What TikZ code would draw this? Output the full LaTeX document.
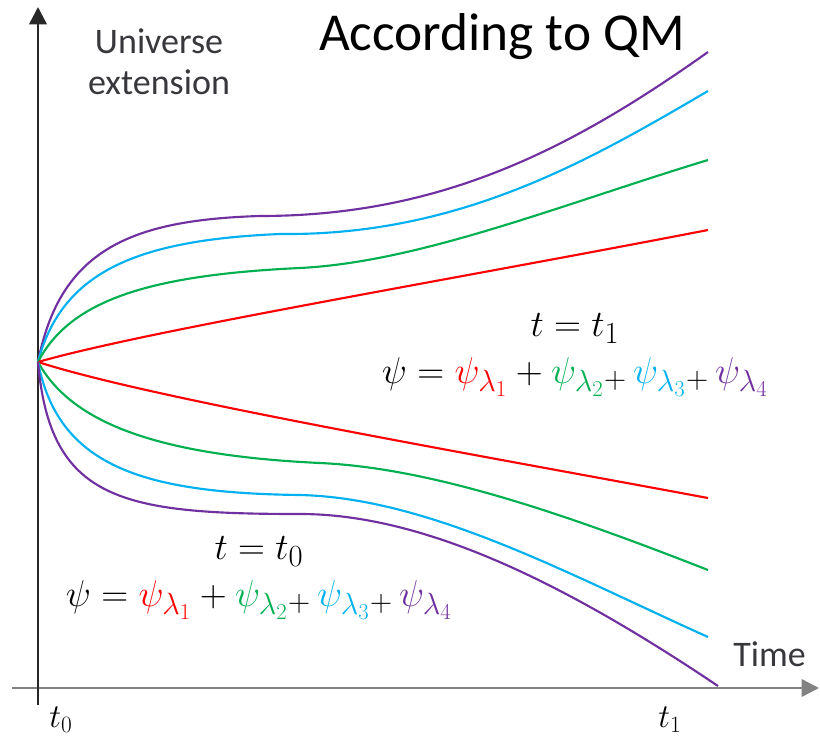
\RequirePackage{fix-cm}
\documentclass[tikz,border=0pt]{standalone}
\usepackage{fontspec}
\setmainfont{Carlito}
\DeclareMathSizes{28}{28}{23}{17}
\usetikzlibrary{arrows.meta}
\definecolor{cRed}{RGB}{255,0,0}
\definecolor{cGreen}{RGB}{0,176,80}
\definecolor{cBlue}{RGB}{0,176,240}
\definecolor{cPurple}{RGB}{112,48,160}
\definecolor{cAxis}{RGB}{40,40,40}
\definecolor{cHAxis}{RGB}{130,130,130}
\definecolor{cLabel}{RGB}{55,55,60}
\tikzset{
  wave/.style={line width=1.6pt},
  axisline/.style={line width=1.9pt, -{Triangle[length=13pt,width=13pt]}},
  lbl/.style={inner sep=0pt, text=cLabel, font=\fontsize{27}{31}\selectfont, align=center},
  mathlbl/.style={inner sep=0pt, font=\fontsize{28}{35}\selectfont, align=center},
  tlbl/.style={inner sep=0pt, font=\fontsize{25}{30}\selectfont}
}
\newcommand{\psisum}{$\psi = \textcolor{cRed}{\psi_{\lambda_1}} + \textcolor{cGreen}{\psi_{\lambda_2}}{}_{+}\,\textcolor{cBlue}{\psi_{\lambda_3}}{}_{+}\,\textcolor{cPurple}{\psi_{\lambda_4}}$}
\begin{document}
\begin{tikzpicture}[x=0.75pt, y=-0.75pt]
\useasboundingbox (0,0) rectangle (820,738);
\coordinate (o) at (38,362);
\coordinate (vb) at (38,705);
\coordinate (vt) at (38,7);
\coordinate (hl) at (12,688);
\coordinate (hr) at (819,688);
\draw[axisline, draw=cHAxis, fill=black] (hl) -- (hr);
\draw[axisline, draw=cAxis, fill=black] (vb) -- (vt);
% upper curves
\draw[wave, cPurple] (o) .. controls (60,250) and (130,220) .. (260,216)
  .. controls (440,216) and (570,150) .. (708,52);
\draw[wave, cBlue] (o) .. controls (62,270) and (140,240) .. (280,234)
  .. controls (460,236) and (590,160) .. (708,91);
\draw[wave, cGreen] (o) .. controls (70,300) and (150,275) .. (300,268)
  .. controls (420,262) and (560,205) .. (708,160);
\draw[wave, cRed] (o) .. controls (150,330) and (450,280) .. (708,230);
% lower curves
\draw[wave, cRed] (o) .. controls (150,398) and (450,450) .. (708,498);
\draw[wave, cGreen] (o) .. controls (70,420) and (150,455) .. (320,463)
  .. controls (430,468) and (560,512) .. (708,570);
\draw[wave, cBlue] (o) .. controls (58,465) and (140,493) .. (300,495)
  .. controls (430,498) and (570,575) .. (708,637);
\draw[wave, cPurple] (o) .. controls (50,500) and (120,514) .. (300,514)
  .. controls (430,514) and (575,590) .. (718,686);
% labels
\node[lbl] (yl) at (159,62) {Universe\\extension};
\node[inner sep=0pt, font=\fontsize{40}{44}\selectfont] (title) at (502,37) {According to QM};
\node[lbl, anchor=west] (xl) at (733,654) {Time};
\node[tlbl] (t0) at (61,720) {$t_0$};
\node[tlbl] (t1) at (670,720) {$t_1$};
\node[mathlbl] (up) at (575,355) {$t = t_1$\\\psisum};
\node[mathlbl] (lo) at (259,578) {$t = t_0$\\\psisum};
\end{tikzpicture}
\end{document}
